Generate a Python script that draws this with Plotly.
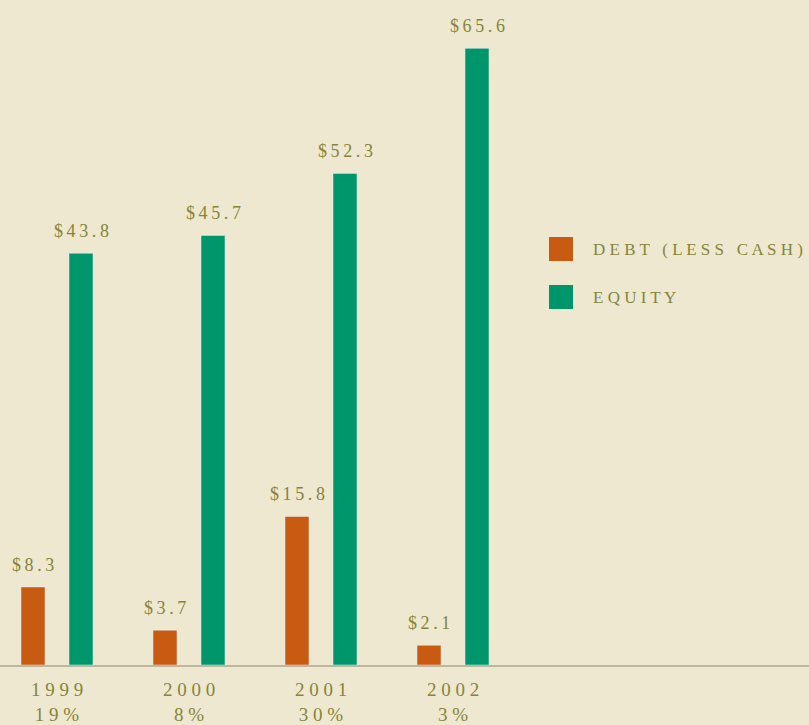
import plotly.graph_objects as go

years = ["1999", "2000", "2001", "2002"]
pct_labels = ["19%", "8%", "30%", "3%"]
debt = [8.3, 3.7, 15.8, 2.1]
equity = [43.8, 45.7, 52.3, 65.6]
series_names = ["DEBT (LESS CASH)", "EQUITY"]

BG = "#EEE8D0"
ORANGE = "#C95A12"
GREEN = "#00966B"
OLIVE = "#85853A"
FONT = "Liberation Serif"

W, H = 809, 725
PLOT_H = 665

def spaced(s, sep=" "):
    return sep.join(list(s))

fig = go.Figure()
fig.add_trace(go.Bar(x=years, y=debt, marker_color=ORANGE, name=series_names[0], showlegend=False))
fig.add_trace(go.Bar(x=years, y=equity, marker_color=GREEN, name=series_names[1], showlegend=False))

annotations = []
for i, (d, e) in enumerate(zip(debt, equity)):
    for val, shift in ((d, -24), (e, 24)):
        annotations.append(dict(
            x=i, y=val, xref="x", yref="y", xshift=shift, yshift=10,
            yanchor="bottom", xanchor="center", showarrow=False,
            text=spaced(f"${val:.1f}", "\u2009"),
            font=dict(family=FONT, size=18, color=OLIVE)))

# legend (custom squares + labels)
shapes = []
for i, (nm, col) in enumerate(zip(series_names, [ORANGE, GREEN])):
    top = 237 + 48 * i
    shapes.append(dict(type="rect", xref="paper", yref="paper",
                       x0=549 / W, x1=573 / W,
                       y0=1 - (top + 24) / PLOT_H, y1=1 - top / PLOT_H,
                       fillcolor=col, line=dict(width=0)))
    words = nm.split(" ")
    txt = "   ".join(spaced(w) for w in words)
    annotations.append(dict(x=591 / W, y=1 - (top + 12) / PLOT_H, xref="paper", yref="paper",
                            xanchor="left", yanchor="middle", showarrow=False,
                            text=txt, font=dict(family=FONT, size=17, color=OLIVE)))

ticktext = [spaced(y) + "<br>" + spaced(p) for y, p in zip(years, pct_labels)]

fig.update_layout(
    width=W, height=H,
    paper_bgcolor=BG, plot_bgcolor=BG,
    margin=dict(l=0, r=0, t=0, b=H - PLOT_H),
    barmode="group", bargap=0.273, bargroupgap=0.5,
    showlegend=False,
    annotations=annotations, shapes=shapes,
    xaxis=dict(type="category", range=[-57 / 132, (809 - 57) / 132],
               tickmode="array", tickvals=years, ticktext=ticktext,
               tickfont=dict(family=FONT, size=19, color=OLIVE),
               ticklabelstandoff=6,
               showline=True, linecolor="#BDB7A0", linewidth=2,
               ticks="", showgrid=False, zeroline=False, fixedrange=True),
    yaxis=dict(range=[0, PLOT_H / 9.4], visible=False, showgrid=False,
               zeroline=False, fixedrange=True),
)

fig.write_html("out.html")
